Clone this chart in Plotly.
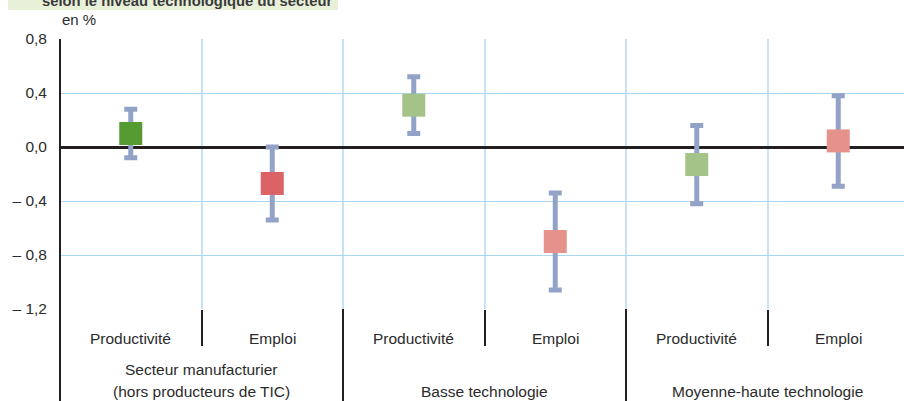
import plotly.graph_objects as go

# ---- data ----
groups = ["Secteur manufacturier<br>(hors producteurs de TIC)", "Basse technologie", "Moyenne-haute technologie"]
measures = ["Productivité", "Emploi"]
values = [0.10, -0.27, 0.31, -0.70, -0.13, 0.045]
errors = [0.18, 0.27, 0.21, 0.36, 0.29, 0.335]
point_colors = ["#569A32", "#DB6365", "#A3C388", "#E5918C", "#A3C388", "#E5918C"]
y_tickvals = [-1.2, -0.8, -0.4, 0.0, 0.4, 0.8]
y_ticktext = ["– 1,2", "– 0,8", "– 0,4", "0,0", "0,4", "0,8"]
title_text = "selon le niveau technologique du secteur"
unit_text = "en %"

categories = [f"{g}|{m}" for g in groups for m in measures]
sub_labels = [m for g in groups for m in measures]

W, H = 904, 401
ML, MR, MT, MB = 60, 0, 39, 92
PW, PH = W - ML - MR, H - MT - MB
CAT_W = 141.5
x_range = [-0.5, -0.5 + PW / CAT_W]

def px_x(p):
    return (p - ML) / PW

def px_y(p):
    return (H - MB - p) / PH

FONT = "Liberation Sans, Arial, sans-serif"
TXT = "#2b2b2b"
INK = "#231F20"

fig = go.Figure()
fig.add_trace(go.Scatter(
    x=categories, y=values, mode="markers",
    marker=dict(symbol="square", size=23, color=point_colors, line=dict(width=0)),
    error_y=dict(type="data", array=errors, visible=True, color="#93A3C8", thickness=5, width=6.5),
    showlegend=False, hoverinfo="skip",
))

shapes = []
# title band
shapes.append(dict(type="rect", xref="paper", yref="paper", x0=px_x(8), x1=px_x(338),
                   y0=px_y(10), y1=px_y(-10), fillcolor="#E8F0D9", line=dict(width=0), layer="below"))
# left axis line to bottom
shapes.append(dict(type="line", xref="paper", yref="paper", x0=0, x1=0, y0=1, y1=px_y(H + 2),
                   line=dict(color=INK, width=2), layer="above"))
# group dividers
for gi in range(1, len(groups)):
    b = gi * len(measures) - 0.5
    shapes.append(dict(type="line", xref="x", yref="paper", x0=b, x1=b, y0=0, y1=px_y(H + 2),
                       line=dict(color=INK, width=2), layer="above"))

annotations = []
annotations.append(dict(text=f"<b>{title_text}</b>", xref="paper", yref="paper", x=px_x(40), y=px_y(11.5),
                        xanchor="left", yanchor="bottom", showarrow=False,
                        font=dict(family=FONT, size=14.8, color="#3a3a3a")))
annotations.append(dict(text=unit_text, xref="paper", yref="paper", x=0, y=px_y(20),
                        xanchor="left", yanchor="middle", showarrow=False,
                        font=dict(family=FONT, size=15, color=TXT)))
for c, lab in zip(categories, sub_labels):
    annotations.append(dict(text=lab, xref="x", yref="paper", x=c, y=px_y(338),
                            xanchor="center", yanchor="middle", showarrow=False,
                            font=dict(family=FONT, size=15.5, color=TXT)))
for gi, g in enumerate(groups):
    xc = gi * len(measures) + (len(measures) - 1) / 2
    lines = g.split("<br>")
    for li, line in enumerate(reversed(lines)):
        annotations.append(dict(text=line, xref="x", yref="paper", x=xc, y=px_y(391 - 22 * li),
                                xanchor="center", yanchor="middle", showarrow=False,
                                font=dict(family=FONT, size=15.5, color=TXT)))

fig.update_layout(
    width=W, height=H,
    margin=dict(l=ML, r=MR, t=MT, b=MB, pad=0),
    paper_bgcolor="white", plot_bgcolor="white",
    font=dict(family=FONT, size=15.5, color=TXT),
    shapes=shapes, annotations=annotations,
    xaxis=dict(type="category", categoryorder="array", categoryarray=categories,
               range=x_range, showgrid=True, gridcolor="#C6E3F5", gridwidth=2,
               tickson="boundaries", ticks="outside", ticklen=36, tickcolor=INK, tickwidth=2,
               showticklabels=False, showline=False, zeroline=False, fixedrange=True),
    yaxis=dict(range=[-1.2, 0.8], tickvals=y_tickvals, ticktext=y_ticktext,
               showgrid=True, gridcolor="#A9D6F2", gridwidth=1,
               zeroline=True, zerolinecolor=INK, zerolinewidth=2.5,
               showline=False, ticks="", ticklabelstandoff=12,
               tickfont=dict(family=FONT, size=15.5, color=TXT), fixedrange=True),
)

fig.write_html("out.html")
